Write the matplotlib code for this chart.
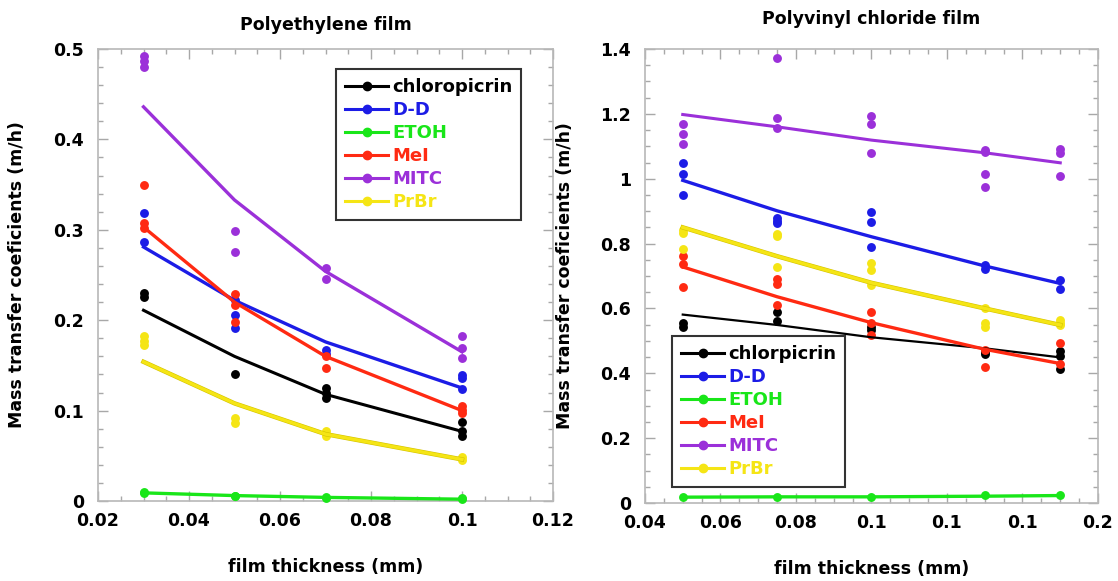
import matplotlib
matplotlib.use("Agg")
import matplotlib.pyplot as plt
from matplotlib.ticker import MultipleLocator, FixedLocator, FixedFormatter
import matplotlib.patheffects as pe

plt.rcParams['font.family'] = ['DejaVu Sans']

# ---------------- data ----------------
names_pe = ["chloropicrin", "D-D", "ETOH", "MeI", "MITC", "PrBr"]
names_pvc = ["chlorpicrin", "D-D", "ETOH", "MeI", "MITC", "PrBr"]
colors = ["#000000", "#1c1ce6", "#19e619", "#ff2a12", "#9b30d9", "#f5e515"]

# Polyethylene film
pe_x = [0.03, 0.05, 0.07, 0.1]
pe_chloro_pts = [[0.230, 0.226], [0.140], [0.125, 0.119, 0.114], [0.087, 0.077, 0.072]]
pe_dd_pts = [[0.319, 0.286], [0.222, 0.206, 0.191], [0.167, 0.163], [0.139, 0.136, 0.124]]
pe_etoh_pts = [[0.010, 0.009], [0.006, 0.005], [0.004, 0.003], [0.003, 0.002]]
pe_mei_pts = [[0.350, 0.307, 0.302], [0.229, 0.217, 0.198], [0.160, 0.147], [0.105, 0.101, 0.097]]
pe_mitc_pts = [[0.492, 0.487, 0.480], [0.299, 0.275], [0.258, 0.246], [0.182, 0.169, 0.158]]
pe_prbr_pts = [[0.182, 0.177, 0.173], [0.0915, 0.086], [0.077, 0.072], [0.049, 0.045]]

pe_chloro_fit = [0.211, 0.160, 0.118, 0.077]
pe_dd_fit = [0.281, 0.222, 0.176, 0.125]
pe_etoh_fit = [0.009, 0.006, 0.004, 0.002]
pe_mei_fit = [0.303, 0.220, 0.160, 0.100]
pe_mitc_fit = [0.436, 0.333, 0.254, 0.165]
pe_prbr_fit = [0.154, 0.108, 0.074, 0.046]

# Polyvinyl chloride film
pvc_x = [0.05, 0.075, 0.1, 0.13, 0.15]
pvc_chloro_pts = [[0.554, 0.543], [0.588, 0.562], [0.543, 0.533], [0.466, 0.459], [0.469, 0.453, 0.412]]
pvc_dd_pts = [[1.047, 1.014, 0.949], [0.880, 0.870, 0.862], [0.897, 0.867, 0.790], [0.733, 0.723], [0.687, 0.659]]
pvc_etoh_pts = [[0.018], [0.019], [0.019], [0.024], [0.025]]
pvc_mei_pts = [[0.761, 0.737, 0.667], [0.690, 0.675, 0.610], [0.588, 0.554, 0.518], [0.472, 0.418], [0.492, 0.430]]
pvc_mitc_pts = [[1.168, 1.139, 1.108], [1.373, 1.186, 1.155], [1.193, 1.168, 1.080],
                [1.088, 1.083, 1.016, 0.975], [1.093, 1.078, 1.009]]
pvc_prbr_pts = [[0.843, 0.834, 0.782], [0.831, 0.823, 0.728], [0.741, 0.718, 0.672],
                [0.602, 0.554, 0.543], [0.564, 0.554, 0.549]]

pvc_chloro_fit = [0.581, 0.549, 0.511, 0.477, 0.449]
pvc_dd_fit = [0.995, 0.901, 0.821, 0.731, 0.677]
pvc_etoh_fit = [0.018, 0.019, 0.019, 0.021, 0.023]
pvc_mei_fit = [0.728, 0.636, 0.556, 0.474, 0.430]
pvc_mitc_fit = [1.198, 1.160, 1.119, 1.080, 1.049]
pvc_prbr_fit = [0.850, 0.761, 0.679, 0.600, 0.549]

pe_xticks = [0.02, 0.04, 0.06, 0.08, 0.10, 0.12]
pe_xticklabels = ["0.02", "0.04", "0.06", "0.08", "0.1", "0.12"]
pe_yticks = [0, 0.1, 0.2, 0.3, 0.4, 0.5]
pe_yticklabels = ["0", "0.1", "0.2", "0.3", "0.4", "0.5"]
pvc_xticks = [0.04, 0.06, 0.08, 0.10, 0.12, 0.14, 0.16]
pvc_xticklabels = ["0.04", "0.06", "0.08", "0.1", "0.1", "0.1", "0.2"]
pvc_yticks = [0, 0.2, 0.4, 0.6, 0.8, 1.0, 1.2, 1.4]
pvc_yticklabels = ["0", "0.2", "0.4", "0.6", "0.8", "1", "1.2", "1.4"]

# ---------------- figure ----------------
W, H = 1118, 581
fig = plt.figure(figsize=(W / 100, H / 100), dpi=100)
ax1 = fig.add_axes([98 / W, (H - 501) / H, 455 / W, 452 / H])
ax2 = fig.add_axes([645 / W, (H - 503) / H, 453 / W, 454 / H])

TICKFONT = dict(fontsize=12.5, fontweight='bold')
LABELFONT = dict(fontsize=12.5, fontweight='bold')


def draw(ax, xs, pts_list, fit_list, names, lws):
    handles = []
    for name, col, pts, fit, lw in zip(names, colors, pts_list, fit_list, lws):
        px, py = [], []
        for x, ys in zip(xs, pts):
            for y in ys:
                px.append(x)
                py.append(y)
        ax.plot(px, py, 'o', color=col, ms=6.4, mew=0, zorder=3, clip_on=False)
        effects = [pe.Stroke(linewidth=lw + 0.8, foreground="#d4c300"), pe.Normal()] if name == "PrBr" else None
        ax.plot(xs, fit, '-', color=col, lw=lw, zorder=4, path_effects=effects)
        h, = ax.plot([], [], '-o', color=col, lw=2.2, ms=6)
        handles.append(h)
    return handles


def style(ax, xlim, ylim, xt, xtl, yt, ytl, xminor, yminor):
    ax.set_xlim(*xlim)
    ax.set_ylim(*ylim)
    ax.xaxis.set_major_locator(FixedLocator(xt))
    ax.xaxis.set_major_formatter(FixedFormatter(xtl))
    ax.yaxis.set_major_locator(FixedLocator(yt))
    ax.yaxis.set_major_formatter(FixedFormatter(ytl))
    ax.xaxis.set_minor_locator(MultipleLocator(xminor))
    ax.yaxis.set_minor_locator(MultipleLocator(yminor))
    ax.tick_params(which='both', direction='in', top=True, right=True, color='#a8a8a8', width=1)
    ax.tick_params(which='major', length=7)
    ax.tick_params(which='minor', length=3.5)
    ax.tick_params(axis='x', which='major', pad=8)
    ax.tick_params(axis='y', which='major', pad=10)
    for lab in ax.get_xticklabels() + ax.get_yticklabels():
        lab.set_fontsize(TICKFONT['fontsize'])
        lab.set_fontweight(TICKFONT['fontweight'])
    for s in ax.spines.values():
        s.set_color('#b8b8b8')
        s.set_linewidth(1.2)
    ax.set_xlabel("film thickness (mm)", labelpad=20, **LABELFONT)
    ax.set_ylabel("Mass transfer coeficients (m/h)", **LABELFONT)


h1 = draw(ax1, pe_x,
          [pe_chloro_pts, pe_dd_pts, pe_etoh_pts, pe_mei_pts, pe_mitc_pts, pe_prbr_pts],
          [pe_chloro_fit, pe_dd_fit, pe_etoh_fit, pe_mei_fit, pe_mitc_fit, pe_prbr_fit],
          names_pe, [2.2, 2.4, 2.4, 2.4, 2.4, 2.4])
h2 = draw(ax2, pvc_x,
          [pvc_chloro_pts, pvc_dd_pts, pvc_etoh_pts, pvc_mei_pts, pvc_mitc_pts, pvc_prbr_pts],
          [pvc_chloro_fit, pvc_dd_fit, pvc_etoh_fit, pvc_mei_fit, pvc_mitc_fit, pvc_prbr_fit],
          names_pvc, [1.6, 2.4, 2.4, 2.4, 2.2, 2.4])

style(ax1, (0.02, 0.12), (0, 0.5), pe_xticks, pe_xticklabels, pe_yticks, pe_yticklabels, 0.005, 0.02)
style(ax2, (0.04, 0.16), (0, 1.4), pvc_xticks, pvc_xticklabels, pvc_yticks, pvc_yticklabels, 0.005, 0.05)
ax1.yaxis.set_label_coords(-0.158, 0.5)
ax2.yaxis.set_label_coords(-0.157, 0.5)

ax1.set_title("Polyethylene film", fontsize=12.5, fontweight='bold', pad=14)
ax2.set_title("Polyvinyl chloride film", fontsize=12.5, fontweight='bold', pad=18)


def legend(ax, handles, names, anchor):
    leg = ax.legend(handles, names, loc='upper left', bbox_to_anchor=anchor,
                    fancybox=False, framealpha=1, edgecolor='#333333',
                    prop=dict(size=13, weight='bold'), handlelength=2.4,
                    handletextpad=0.2, labelspacing=0.28, borderpad=0.5,
                    borderaxespad=0, numpoints=1)
    leg.get_frame().set_linewidth(1.5)
    for t, c in zip(leg.get_texts(), colors):
        t.set_color(c)
    leg.set_zorder(10)
    return leg


legend(ax1, h1, names_pe, ((336 - 98) / 455, (501 - 69) / 452))
legend(ax2, h2, names_pvc, ((672 - 645) / 453, (503 - 336) / 454))

fig.savefig("out.png", dpi=100)
